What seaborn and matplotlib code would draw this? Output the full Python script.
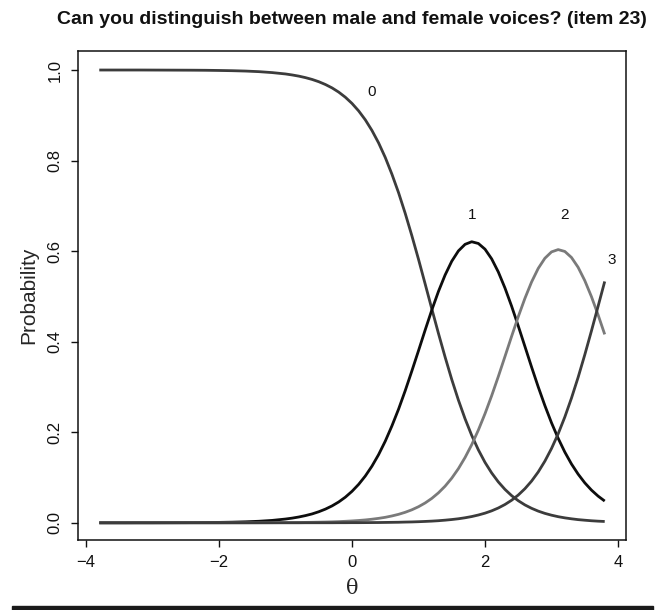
import numpy as np
import pandas as pd
import matplotlib
matplotlib.use("Agg")
import matplotlib.pyplot as plt
from matplotlib.patches import Rectangle
import seaborn as sns

# ---- data ----
theta = [-3.8, -3.6, -3.4, -3.2, -3.0, -2.8, -2.6, -2.4, -2.2, -2.0, -1.8, -1.6, -1.4, -1.2,
         -1.0, -0.9, -0.8, -0.7, -0.6, -0.5, -0.4, -0.3, -0.2, -0.1,
         0.0, 0.1, 0.2, 0.3, 0.4, 0.5, 0.6, 0.7, 0.8, 0.9,
         1.0, 1.1, 1.2, 1.3, 1.4, 1.5, 1.6, 1.7, 1.8, 1.9,
         2.0, 2.1, 2.2, 2.3, 2.4, 2.5, 2.6, 2.7, 2.8, 2.9,
         3.0, 3.1, 3.2, 3.3, 3.4, 3.5, 3.6, 3.7, 3.8]

cat0 = [1.000, 1.000, 1.000, 1.000, 0.9999, 0.9998, 0.9997, 0.9996, 0.9994, 0.9990, 0.9985, 0.9977, 0.9964, 0.9943,
        0.9913, 0.9891, 0.9865, 0.9832, 0.9792, 0.9742, 0.9680, 0.9605, 0.9512, 0.9399,
        0.9262, 0.9097, 0.8900, 0.8665, 0.8390, 0.8069, 0.7700, 0.7291, 0.6835, 0.6341,
        0.5820, 0.5275, 0.4725, 0.4182, 0.3660, 0.3165, 0.2710, 0.2297, 0.1930, 0.1611,
        0.1334, 0.1101, 0.0903, 0.0738, 0.0600, 0.0488, 0.0395, 0.0320, 0.0258, 0.0208,
        0.0168, 0.0135, 0.0109, 0.0088, 0.0070, 0.0057, 0.0045, 0.0036, 0.0029]

cat1 = [0.0000, 0.0000, 0.0000, 0.0001, 0.0001, 0.0002, 0.0003, 0.0004, 0.0006, 0.0009, 0.0014, 0.0022, 0.0034, 0.0053,
        0.0083, 0.0103, 0.0128, 0.0159, 0.0196, 0.0244, 0.0302, 0.0373, 0.0460, 0.0566,
        0.0695, 0.0849, 0.1033, 0.1251, 0.1506, 0.1802, 0.2139, 0.2509, 0.2917, 0.3353,
        0.3801, 0.4257, 0.4699, 0.5110, 0.5473, 0.5777, 0.6005, 0.6150, 0.6207, 0.6169,
        0.6043, 0.5829, 0.5540, 0.5186, 0.4784, 0.4347, 0.3895, 0.3441, 0.3002, 0.2589,
        0.2208, 0.1866, 0.1562, 0.1299, 0.1075, 0.0883, 0.0723, 0.0590, 0.0480]

cat2 = [0.0000, 0.0000, 0.0000, 0.0000, 0.0000, 0.0000, 0.0000, 0.0000, 0.0000, 0.0000, 0.0001, 0.0001, 0.0002, 0.0003,
        0.0005, 0.0006, 0.0007, 0.0009, 0.0011, 0.0014, 0.0017, 0.0021, 0.0026, 0.0033,
        0.0041, 0.0051, 0.0063, 0.0079, 0.0098, 0.0121, 0.0151, 0.0187, 0.0232, 0.0287,
        0.0355, 0.0438, 0.0539, 0.0662, 0.0809, 0.0986, 0.1196, 0.1442, 0.1725, 0.2048,
        0.2410, 0.2806, 0.3230, 0.3672, 0.4118, 0.4552, 0.4957, 0.5318, 0.5618, 0.5842,
        0.5983, 0.6034, 0.5993, 0.5860, 0.5643, 0.5350, 0.4996, 0.4594, 0.4161]

cat3 = [0.0000, 0.0000, 0.0000, 0.0000, 0.0000, 0.0000, 0.0000, 0.0000, 0.0000, 0.0000, 0.0000, 0.0000, 0.0000, 0.0000,
        0.0000, 0.0000, 0.0000, 0.0001, 0.0001, 0.0001, 0.0001, 0.0001, 0.0002, 0.0002,
        0.0003, 0.0003, 0.0004, 0.0005, 0.0006, 0.0008, 0.0010, 0.0012, 0.0016, 0.0019,
        0.0024, 0.0030, 0.0037, 0.0046, 0.0058, 0.0072, 0.0089, 0.0111, 0.0138, 0.0172,
        0.0213, 0.0264, 0.0327, 0.0404, 0.0498, 0.0613, 0.0753, 0.0921, 0.1122, 0.1361,
        0.1641, 0.1965, 0.2336, 0.2753, 0.3212, 0.3710, 0.4236, 0.4780, 0.5330]

categories = ["0", "1", "2", "3"]
label_x = [0.30, 1.80, 3.20, 3.91]
label_y = [0.951, 0.68, 0.68, 0.58]
x_ticks = [-4, -2, 0, 2, 4]
y_ticks = [0.0, 0.2, 0.4, 0.6, 0.8, 1.0]
title = "Can you distinguish between male and female voices? (item 23)"

# ---- build table ----
series = [cat0, cat1, cat2, cat3]
df = pd.concat([pd.DataFrame({"theta": theta, "prob": s, "cat": c})
                for s, c in zip(series, categories)], ignore_index=True)

sns.set_style("ticks")
plt.rcParams["font.family"] = ["Liberation Sans", "DejaVu Sans"]

fig = plt.figure(figsize=(6.65, 6.10), dpi=100)
ax = fig.add_axes([78/665, 1-540/610, (626-78)/665, (540-51)/610])

palette = {"0": "#3c3c3c", "1": "#0d0d0d", "2": "#7a7a7a", "3": "#3c3c3c"}
sns.lineplot(data=df, x="theta", y="prob", hue="cat", palette=palette,
             linewidth=2.0, legend=False, ax=ax, sort=True,
             solid_joinstyle="round", solid_capstyle="butt")

for c, lx, ly in zip(categories, label_x, label_y):
    ax.text(lx, ly, c, ha="center", va="center", fontsize=11, color="#111111")

ax.set_xlim(-4.12, 4.12)
ax.set_ylim(-0.038, 1.042)
ax.set_xticks(x_ticks)
ax.set_xticklabels([f"{t:d}".replace("-", "\u2212") for t in x_ticks], fontsize=12)
ax.set_yticks(y_ticks)
ax.set_yticklabels([f"{t:.1f}" for t in y_ticks], fontsize=12, rotation=90, va="center")
ax.tick_params(axis="both", length=5, width=1, pad=6, colors="#111111")

for sp in ax.spines.values():
    sp.set_visible(True)
    sp.set_linewidth(1.1)
    sp.set_color("#111111")

ax.set_xlabel("\u03b8", fontsize=15, family=["DejaVu Serif"], labelpad=6)
ax.set_ylabel("Probability", fontsize=15, labelpad=7)

fig.text(352/665, 1-19/610, title, ha="center", va="center",
         fontsize=14, fontweight="bold", color="#111111")

fig.patches.append(Rectangle((12/665, 0), (653-12)/665, 4.5/610,
                             transform=fig.transFigure, color="#1a1a1a",
                             zorder=5))

fig.savefig("out.png", dpi=100)
